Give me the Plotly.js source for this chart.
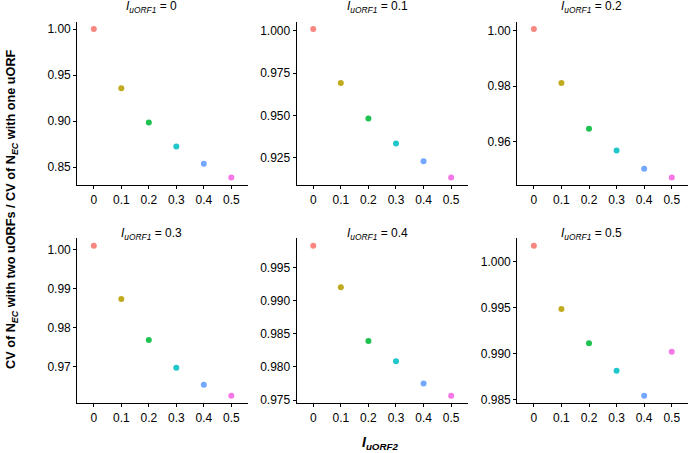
<!DOCTYPE html>
<html>
<head>
<meta charset="utf-8">
<script src="https://cdn.plot.ly/plotly-3.0.1.min.js"></script>
<style>
  body { margin: 0; background: #fff; }
  #chart { width: 690px; height: 453px; }
</style>
</head>
<body>
<div id="chart"></div>
<script>
// I_uORF2 categories on the x axis of every panel
const uorf2Levels = ["0", "0.1", "0.2", "0.3", "0.4", "0.5"];
// I_uORF1 value of each panel (panel titles)
const uorf1Levels = ["0", "0.1", "0.2", "0.3", "0.4", "0.5"];

// CV ratio (two uORFs / one uORF), one array per panel
const cvRatio_u1_0  = [1.0000, 0.9357, 0.8986, 0.8725, 0.8536, 0.8386];
const cvRatio_u1_01 = [1.0010, 0.9692, 0.9483, 0.9335, 0.9231, 0.9134];
const cvRatio_u1_02 = [1.0006, 0.9811, 0.9646, 0.9567, 0.9501, 0.9469];
const cvRatio_u1_03 = [1.0009, 0.9873, 0.9768, 0.9697, 0.9653, 0.9625];
const cvRatio_u1_04 = [0.99825, 0.9920, 0.9839, 0.98085, 0.9775, 0.97565];
const cvRatio_u1_05 = [1.00173, 0.99486, 0.99115, 0.98816, 0.98543, 0.99022];

// y tick values per panel
const yTicks_u1_0  = [0.85, 0.90, 0.95, 1.00];
const yTicks_u1_01 = [0.925, 0.950, 0.975, 1.000];
const yTicks_u1_02 = [0.96, 0.98, 1.00];
const yTicks_u1_03 = [0.97, 0.98, 0.99, 1.00];
const yTicks_u1_04 = [0.975, 0.980, 0.985, 0.990, 0.995];
const yTicks_u1_05 = [0.985, 0.990, 0.995, 1.000];

const panelValues = [cvRatio_u1_0, cvRatio_u1_01, cvRatio_u1_02, cvRatio_u1_03, cvRatio_u1_04, cvRatio_u1_05];
const panelTicks = [yTicks_u1_0, yTicks_u1_01, yTicks_u1_02, yTicks_u1_03, yTicks_u1_04, yTicks_u1_05];
const tickFormats = [".2f", ".3f", ".2f", ".2f", ".3f", ".3f"];

// ggplot default hue palette for 6 levels
const pointColors = ["#F8766D", "#B79F00", "#00BA38", "#00BFC4", "#619CFF", "#F564E3"];

const W = 690, H = 453;
// panel boxes in pixels: [left, right] and [top, bottom]
const colPx = [[77.3, 247.8], [296.7, 467.7], [517.3, 688.3]];
const rowPx = [[21.7, 185], [238.3, 403.3]];
const titleX = [151, 377, 591];
const titleY = [7, 234];

let traces = [];
let layout = {
    width: W,
    height: H,
    margin: { l: 0, r: 0, t: 0, b: 0 },
    paper_bgcolor: "white",
    plot_bgcolor: "white",
    showlegend: false,
    font: { family: "Liberation Sans, Arial, sans-serif", color: "black", size: 12 },
    annotations: []
};

panelValues.forEach((vals, i) => {
    let n = i + 1;
    let col = i % 3, row = Math.floor(i / 3);
    let xa = "xaxis" + (n === 1 ? "" : n);
    let ya = "yaxis" + (n === 1 ? "" : n);
    let xr = "x" + (n === 1 ? "" : n);
    let yr = "y" + (n === 1 ? "" : n);

    traces.push({
        type: "scatter",
        mode: "markers",
        x: uorf2Levels,
        y: vals,
        xaxis: xr,
        yaxis: yr,
        marker: { size: 6, color: pointColors, opacity: 0.88 },
        hoverinfo: "x+y"
    });

    // ggplot style 5% expansion on continuous y
    let lo = Math.min(...vals), hi = Math.max(...vals);
    let pad = (hi - lo) * 0.05;

    layout[xa] = {
        type: "category",
        categoryorder: "array",
        categoryarray: uorf2Levels,
        domain: [colPx[col][0] / W, colPx[col][1] / W],
        range: [-0.6, 5.6],
        anchor: yr,
        showline: true,
        linecolor: "black",
        linewidth: 1.1,
        ticks: "outside",
        ticklen: 3,
        tickcolor: "black",
        tickwidth: 1,
        showgrid: false,
        zeroline: false,
        tickfont: { size: 12, color: "black" }
    };
    layout[ya] = {
        domain: [1 - rowPx[row][1] / H, 1 - rowPx[row][0] / H],
        range: [lo - pad, hi + pad],
        anchor: xr,
        tickvals: panelTicks[i],
        tickformat: tickFormats[i],
        showline: true,
        linecolor: "black",
        linewidth: 1.1,
        ticks: "outside",
        ticklen: 3,
        tickcolor: "black",
        tickwidth: 1,
        showgrid: false,
        zeroline: false,
        tickfont: { size: 12, color: "black" }
    };

    layout.annotations.push({
        text: "<i>I</i><sub><i>uORF1</i></sub> = " + uorf1Levels[i],
        xref: "paper", yref: "paper",
        x: titleX[col] / W, y: 1 - titleY[row] / H,
        xanchor: "center", yanchor: "middle",
        showarrow: false,
        font: { size: 12, color: "black" }
    });
});

// shared axis titles
layout.annotations.push({
    text: "<b><i>I</i><sub><i>uORF2</i></sub></b>",
    xref: "paper", yref: "paper",
    x: 380 / W, y: 1 - 443 / H,
    xanchor: "center", yanchor: "middle",
    showarrow: false,
    font: { size: 14, color: "black" }
});
layout.annotations.push({
    text: "<b>CV of N<sub><i>EC</i></sub> with two uORFs / CV of N<sub><i>EC</i></sub> with one uORF</b>",
    xref: "paper", yref: "paper",
    x: 12 / W, y: 1 - 209 / H,
    xanchor: "center", yanchor: "middle",
    textangle: -90,
    showarrow: false,
    font: { size: 12.7, color: "black" }
});

Plotly.newPlot("chart", traces, layout, { displayModeBar: false, staticPlot: true });
</script>
</body>
</html>
